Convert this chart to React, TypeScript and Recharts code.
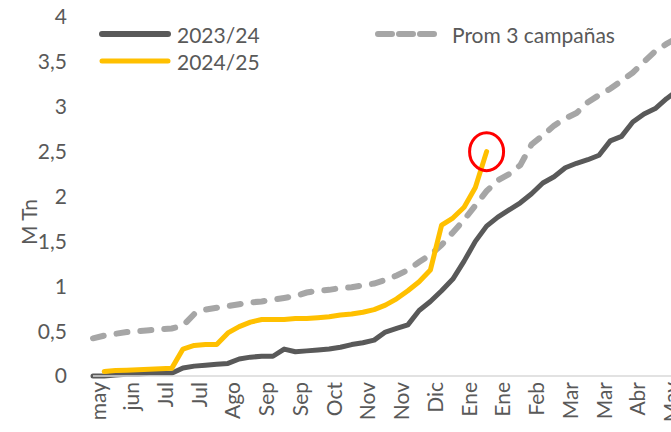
import { LineChart, Line, XAxis, YAxis, CartesianGrid, ReferenceDot } from "recharts";

// weekly cumulative values, M Tn
const campaign2023 = [
  0.0, 0.0, 0.01, 0.02, 0.02, 0.03, 0.03, 0.03, 0.09, 0.11, 0.12, 0.13, 0.14, 0.19, 0.21, 0.22, 0.22, 0.3,
  0.27, 0.28, 0.29, 0.3, 0.32, 0.35, 0.37, 0.4, 0.49, 0.53, 0.57, 0.73, 0.83, 0.95, 1.08, 1.28, 1.5, 1.67,
  1.77, 1.85, 1.93, 2.03, 2.15, 2.22, 2.32, 2.37, 2.41, 2.46, 2.62, 2.67, 2.83, 2.92, 2.98, 3.09, 3.18, 3.25,
];
const campaign2024 = [
  null, 0.05, 0.06, 0.065, 0.07, 0.075, 0.08, 0.085, 0.3, 0.34, 0.35, 0.35, 0.48, 0.55, 0.6, 0.63, 0.63, 0.63,
  0.64, 0.64, 0.65, 0.66, 0.68, 0.69, 0.71, 0.74, 0.79, 0.86, 0.95, 1.05, 1.18, 1.68, 1.76, 1.88, 2.1, 2.5,
];
const avg3 = [
  0.42, 0.45, 0.47, 0.49, 0.5, 0.51, 0.52, 0.53, 0.56, 0.69, 0.74, 0.76, 0.78, 0.8, 0.82, 0.83, 0.85, 0.87,
  0.89, 0.93, 0.95, 0.96, 0.98, 0.99, 1.01, 1.03, 1.07, 1.12, 1.18, 1.27, 1.35, 1.46, 1.6, 1.74, 1.9, 2.06,
  2.18, 2.25, 2.35, 2.58, 2.68, 2.79, 2.87, 2.93, 3.05, 3.13, 3.2, 3.29, 3.38, 3.5, 3.62, 3.7, 3.77, 3.84,
];
const tickLabels = ["may", "jun", "Jul", "Jul", "Ago", "Sep", "Sep", "Oct", "Nov", "Nov", "Dic", "Ene", "Ene", "Feb", "Mar", "Mar", "Abr", "May"];
const yTicks = [0, 0.5, 1, 1.5, 2, 2.5, 3, 3.5, 4];

const lastIdx = campaign2024.length - 1;
const data = avg3.map((v, i) => ({
  i,
  c23: campaign2023[i],
  c24: campaign2024[i] ?? undefined,
  avg: v,
}));
const xTicks = tickLabels.map((_, k) => k * 3);

const FONT = "Lato, 'Open Sans', sans-serif";
const TXT = "#595959";

const XTick = (props: any) => {
  const { x, y, payload } = props;
  return (
    <text
      transform={`translate(${x + 4},${y - 2}) rotate(-90)`}
      textAnchor="end"
      dominantBaseline="central"
      fill={TXT}
      fontSize={21}
      fontFamily={FONT}
    >
      {tickLabels[payload.value / 3]}
    </text>
  );
};

const YLabel = () => (
  <text
    transform="translate(28,222) rotate(-90)"
    textAnchor="middle"
    dominantBaseline="central"
    fill={TXT}
    fontSize={21}
    fontFamily={FONT}
  >
    M Tn
  </text>
);

export default function App() {
  return (
    <div
      style={{
        position: "absolute",
        left: 0,
        top: 0,
        width: 671,
        height: 432,
        overflow: "hidden",
        background: "#fff",
        fontFamily: FONT,
      }}
    >
      <LineChart width={690} height={432} data={data} margin={{ top: 17, right: 1, left: 0, bottom: 0 }}>
        <CartesianGrid horizontal={false} vertical={false} />
        <XAxis
          dataKey="i"
          type="number"
          domain={[0, 53]}
          ticks={xTicks}
          interval={0}
          height={56}
          tickLine={false}
          axisLine={{ stroke: "#d9d9d9", strokeWidth: 1.5 }}
          tick={<XTick />}
        />
        <YAxis
          width={93}
          domain={[0, 4]}
          ticks={yTicks}
          interval={0}
          axisLine={false}
          tickLine={false}
          tickMargin={20}
          tick={{ fill: TXT, fontSize: 21, fontFamily: FONT }}
          tickFormatter={(v: number) => String(v).replace(".", ",")}
          label={<YLabel />}
        />
        <Line
          dataKey="avg"
          stroke="#a6a6a6"
          strokeWidth={6}
          strokeDasharray="11 13"
          strokeLinecap="round"
          dot={false}
          isAnimationActive={false}
        />
        <Line
          dataKey="c23"
          stroke="#595959"
          strokeWidth={5}
          strokeLinecap="round"
          strokeLinejoin="round"
          dot={false}
          isAnimationActive={false}
        />
        <Line
          dataKey="c24"
          stroke="#ffc000"
          strokeWidth={5}
          strokeLinecap="round"
          strokeLinejoin="round"
          dot={false}
          isAnimationActive={false}
        />
        <ReferenceDot
          x={lastIdx}
          y={campaign2024[lastIdx] as number}
          ifOverflow="visible"
          shape={(p: any) => (
            <ellipse cx={p.cx} cy={p.cy} rx={17} ry={19} fill="none" stroke="#ff0000" strokeWidth={3} />
          )}
        />
      </LineChart>
      <svg width={671} height={80} style={{ position: "absolute", left: 0, top: 0 }}>
        <line x1={102} y1={34} x2={168} y2={34} stroke="#595959" strokeWidth={6} strokeLinecap="round" />
        <text x={177} y={34} dominantBaseline="central" fill={TXT} fontSize={21} fontFamily={FONT}>
          2023/24
        </text>
        <line x1={102} y1={61} x2={168} y2={61} stroke="#ffc000" strokeWidth={5} strokeLinecap="round" />
        <text x={177} y={61} dominantBaseline="central" fill={TXT} fontSize={21} fontFamily={FONT}>
          2024/25
        </text>
        <line
          x1={378}
          y1={34}
          x2={437}
          y2={34}
          stroke="#a6a6a6"
          strokeWidth={6}
          strokeDasharray="14 7"
          strokeLinecap="round"
        />
        <text x={452} y={34} dominantBaseline="central" fill={TXT} fontSize={21} fontFamily={FONT}>
          Prom 3 campañas
        </text>
      </svg>
    </div>
  );
}
